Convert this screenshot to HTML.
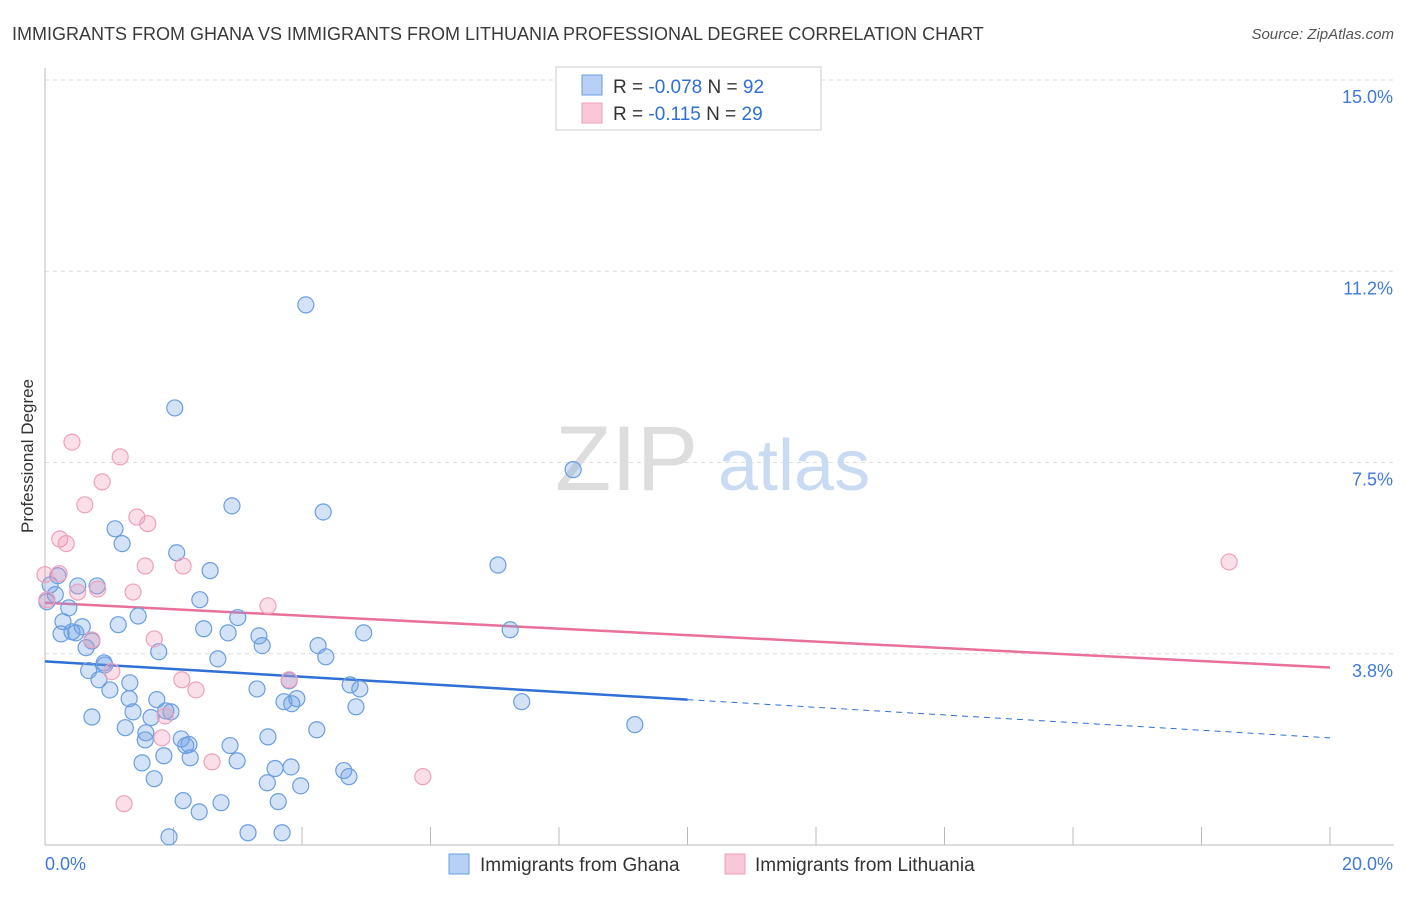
<!DOCTYPE html>
<html><head><meta charset="utf-8"><style>
body{margin:0;background:#fff;font-family:"Liberation Sans",sans-serif}
svg text{font-family:"Liberation Sans",sans-serif}
</style></head><body>
<svg id="chart" width="1406" height="892" viewBox="0 0 1406 892">
<text x="12" y="40" font-size="18" fill="#3a3a3a">IMMIGRANTS FROM GHANA VS IMMIGRANTS FROM LITHUANIA PROFESSIONAL DEGREE CORRELATION CHART</text>
<text x="1394" y="39" font-size="15" fill="#555" font-style="italic" text-anchor="end">Source: ZipAtlas.com</text>
<text x="0" y="0" transform="translate(33,456) rotate(-90)" font-size="17" fill="#333" text-anchor="middle">Professional Degree</text>
<g id="grid"></g>
<text x="555" y="490" font-size="92" fill="#ddd" font-family="Liberation Serif">ZIP</text>
<text x="718" y="490" font-size="72" fill="#c9dbf2">atlas</text>
<g id="lines"></g>
<g id="points"></g>
<g>
<rect x="556" y="67" width="265" height="63" fill="#fff" stroke="#ccc"/>
<rect x="582" y="75" width="20" height="20" fill="#b8d0f4" stroke="#6a9ee0"/>
<rect x="582" y="103" width="20" height="20" fill="#f9c8d8" stroke="#f0a0bb"/>
<text x="613" y="93" font-size="19" fill="#333">R = <tspan fill="#2f6fd6">-0.078</tspan>   N = <tspan fill="#2f6fd6">92</tspan></text>
<text x="613" y="120" font-size="19" fill="#333">R =  <tspan fill="#2f6fd6"> -0.115</tspan>   N = <tspan fill="#2f6fd6">29</tspan></text>
</g>
<g>
<rect x="449" y="854" width="20" height="20" fill="#b8d0f4" stroke="#6a9ee0"/>
<text x="480" y="871" font-size="19" fill="#333">Immigrants from Ghana</text>
<rect x="725" y="854" width="20" height="20" fill="#f9c8d8" stroke="#f0a0bb"/>
<text x="755" y="871" font-size="19" fill="#333">Immigrants from Lithuania</text>
</g>
</svg>
<script>
const yTicks=[15.0,11.25,7.5,3.75];
const yTickLabels=["15.0%","11.2%","7.5%","3.8%"];
const xTicks=[0,2,4,6,8,10,12,14,16,18,20];
const xEndLabels=["0.0%","20.0%"];
const ghanaX=[4.06,2.02,8.22,2.91,4.33,1.09,1.20,2.05,7.05,2.57,0.20,0.81,0.51,0.08,0.16,0.37,0.03,2.41,3.00,1.45,1.14,0.28,0.58,0.42,0.25,0.48,2.47,2.85,3.33,4.96,7.24,0.73,3.38,4.25,0.64,1.77,4.37,2.69,0.92,0.93,0.68,1.32,0.84,3.80,4.75,4.90,1.01,3.30,1.31,1.74,3.92,3.72,3.84,7.42,4.84,1.37,1.88,1.96,1.65,0.73,1.25,4.23,9.18,1.57,1.56,2.12,2.24,3.47,2.88,2.19,2.26,1.85,2.99,1.51,3.58,3.83,4.65,3.46,4.73,1.70,3.98,2.15,2.74,3.63,2.40,1.93,3.16,3.69];
const ghanaY=[10.59,8.57,7.36,6.65,6.53,6.20,5.91,5.73,5.49,5.38,5.28,5.08,5.08,5.10,4.91,4.65,4.77,4.81,4.46,4.49,4.32,4.38,4.28,4.18,4.14,4.16,4.24,4.16,4.10,4.16,4.22,4.00,3.91,3.91,3.87,3.79,3.69,3.65,3.57,3.53,3.42,3.18,3.24,3.22,3.14,3.06,3.04,3.06,2.87,2.85,2.87,2.81,2.77,2.81,2.71,2.61,2.63,2.61,2.50,2.51,2.30,2.26,2.36,2.20,2.06,2.08,1.97,2.12,1.95,1.95,1.71,1.75,1.65,1.61,1.50,1.53,1.46,1.22,1.34,1.30,1.16,0.87,0.83,0.85,0.65,0.16,0.24,0.24];
const lithX=[0.42,1.17,0.89,0.62,1.43,1.60,0.23,0.33,1.56,2.15,0.22,0.82,0.51,1.37,3.47,0.73,1.70,1.04,3.80,2.13,2.35,1.87,1.82,2.60,1.23,5.88,18.43,0.0,0.03];
const lithY=[7.90,7.61,7.12,6.67,6.43,6.30,6.00,5.91,5.47,5.47,5.32,5.02,4.96,4.96,4.69,4.02,4.04,3.40,3.24,3.24,3.04,2.53,2.10,1.63,0.81,1.34,5.55,5.30,4.81];
const ghanaTrend=[3.60,2.10];
const lithTrend=[4.75,3.48];
const X0=45,X1=1330,Y0=845,YT=80;
const xs=v=>X0+v/20*(X1-X0);
const ys=v=>Y0-v/15*(Y0-YT);
const NS="http://www.w3.org/2000/svg";
function mk(tag,attrs,parent){const e=document.createElementNS(NS,tag);for(const k in attrs)e.setAttribute(k,attrs[k]);parent.appendChild(e);return e;}
const grid=document.getElementById('grid');
yTicks.forEach((t,i)=>{
 const l=mk('line',{x1:X0,x2:1394,y1:ys(t),y2:ys(t),stroke:'#ddd','stroke-dasharray':'4,4'},grid);
 
 
 const tx=mk('text',{x:1393,y:ys(t)+23,'font-size':18,fill:'#3f7ad6','text-anchor':'end'},grid);
 tx.textContent=yTickLabels[i];
 
 
});
const ax=mk('line',{x1:X0,x2:X0,y1:68,y2:Y0,stroke:'#bbb'},grid);


const bx=mk('line',{x1:X0,x2:1394,y1:Y0,y2:Y0,stroke:'#bbb'},grid);


xTicks.forEach(t=>{
 const l=mk('line',{x1:xs(t),x2:xs(t),y1:Y0,y2:Y0-18,stroke:'#bbb'},grid);
 
 
});
[[0,'start',45],[20,'end',1393]].forEach((a,i)=>{
 const tx=mk('text',{x:a[2],y:870,'font-size':18,fill:'#3f7ad6','text-anchor':a[1]},grid);
 tx.textContent=xEndLabels[i];
 
 
});
const pts=document.getElementById('points');
ghanaX.forEach((x,i)=>{
 const c=mk('circle',{cx:xs(x),cy:ys(ghanaY[i]),r:8,fill:'rgba(110,160,230,0.3)',stroke:'#6a9ee0','stroke-width':1.2},pts);
 
 
});
lithX.forEach((x,i)=>{
 const c=mk('circle',{cx:xs(x),cy:ys(lithY[i]),r:8,fill:'rgba(240,150,180,0.3)',stroke:'#f0a0bb','stroke-width':1.2},pts);
 
 
});
const lines=document.getElementById('lines');
const gm=(ghanaTrend[1]-ghanaTrend[0])/20;
const l1=mk('line',{x1:xs(0),y1:ys(ghanaTrend[0]),x2:xs(10),y2:ys(ghanaTrend[0]+gm*10),stroke:'#2f6fd6','stroke-width':2.5},lines);


const l2=mk('line',{x1:xs(10),y1:ys(ghanaTrend[0]+gm*10),x2:xs(20),y2:ys(ghanaTrend[1]),stroke:'#2f6fd6','stroke-width':1,'stroke-dasharray':'6,5'},lines);


const l3=mk('line',{x1:xs(0),y1:ys(lithTrend[0]),x2:xs(20),y2:ys(lithTrend[1]),stroke:'#e8709a','stroke-width':2.5},lines);


</script>
</body></html>
